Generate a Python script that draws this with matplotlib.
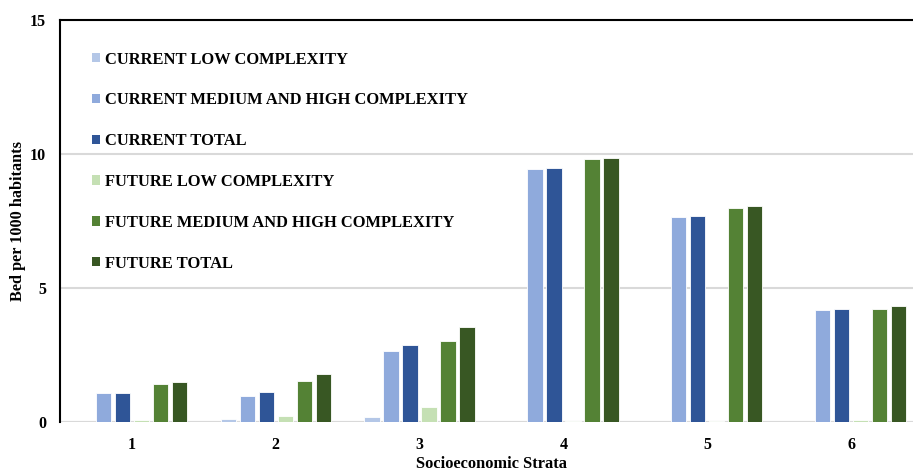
import matplotlib
matplotlib.use("Agg")
import matplotlib.pyplot as plt
from matplotlib.patches import Patch
import numpy as np

# Hospital beds per 1000 inhabitants by socioeconomic stratum
strata = ["1", "2", "3", "4", "5", "6"]
series_names = [
    "CURRENT LOW COMPLEXITY",
    "CURRENT MEDIUM AND HIGH COMPLEXITY",
    "CURRENT TOTAL",
    "FUTURE LOW COMPLEXITY",
    "FUTURE MEDIUM AND HIGH COMPLEXITY",
    "FUTURE TOTAL",
]
current_low = [0.0, 0.13, 0.17, 0.0, 0.0, 0.0]
current_med_high = [1.08, 0.98, 2.64, 9.43, 7.65, 4.18]
current_total = [1.10, 1.13, 2.86, 9.47, 7.67, 4.22]
future_low = [0.08, 0.22, 0.57, 0.02, 0.02, 0.07]
future_med_high = [1.43, 1.54, 3.01, 9.81, 8.00, 4.23]
future_total = [1.50, 1.78, 3.56, 9.84, 8.06, 4.33]
y_ticks = [0, 5, 10, 15]

series = [current_low, current_med_high, current_total,
          future_low, future_med_high, future_total]
colors = ["#b4c7e7", "#8faadc", "#2f5597", "#c5e0b4", "#548235", "#385723"]

serif = ["Liberation Serif", "DejaVu Serif"]
W, H = 913, 472
fig = plt.figure(figsize=(W / 100, H / 100), dpi=100)
ax = fig.add_axes([60 / W, (H - 422) / H, (923 - 60) / W, (422 - 20) / H])

x = np.arange(len(strata))
step = 0.132
width = 0.106
for i, (vals, col) in enumerate(zip(series, colors)):
    ax.bar(x + (i - 2.5) * step, vals, width=width, color=col,
           edgecolor="white", linewidth=0.6, zorder=3)

ax.set_xlim(-0.5, 5.5)
ax.set_ylim(0, 15)
ax.set_yticks(y_ticks)
ax.set_xticks(x)
ax.set_xticklabels(strata)
ax.tick_params(length=0, labelsize=11.5)
ax.tick_params(axis="y", pad=10)
ax.tick_params(axis="x", pad=11)
for lab in ax.get_xticklabels() + ax.get_yticklabels():
    lab.set_fontfamily(serif)
    lab.set_fontweight("bold")

ax.yaxis.grid(True, color="#d9d9d9", linewidth=1.5, zorder=0)
ax.set_axisbelow(True)
for side in ("right", "bottom"):
    ax.spines[side].set_visible(False)
ax.spines["top"].set_color("black")
ax.spines["top"].set_linewidth(1.5)
ax.spines["left"].set_color("black")
ax.spines["left"].set_linewidth(1.5)
ax.axhline(0, color="#d9d9d9", linewidth=1.5, zorder=1)

ax.set_ylabel("Bed per 1000 habitants", fontfamily=serif, fontweight="bold",
              fontsize=11.7)
ax.yaxis.set_label_coords(-34 / (923 - 60), 0.5)
ax.set_xlabel("Socioeconomic Strata", fontfamily=serif, fontweight="bold",
              fontsize=11.8)
ax.xaxis.set_label_coords(0.5, -34 / 402)

handles = [Patch(facecolor=c, edgecolor="none") for c in colors]
leg = ax.legend(handles, series_names, loc="upper left",
                bbox_to_anchor=(25 / 863, 1 - 25 / 402), frameon=False,
                prop={"family": serif, "weight": "bold", "size": 11.9},
                handlelength=0.5, handleheight=0.5, handletextpad=0.3,
                labelspacing=1.5, borderaxespad=0)

fig.savefig("out.png", dpi=100)
